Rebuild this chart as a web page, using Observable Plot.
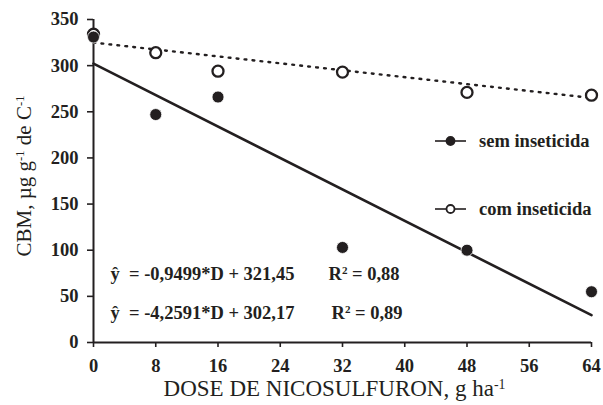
<!DOCTYPE html>
<html>
<head>
<meta charset="utf-8">
<script src="https://cdn.jsdelivr.net/npm/d3@7"></script>
<script src="https://cdn.jsdelivr.net/npm/@observablehq/plot@0.6"></script>
<style>
  body { margin: 0; background: #fff; }
  #wrap { position: relative; width: 603px; height: 405px; overflow: hidden; font-family: "Liberation Serif", "Times New Roman", serif; }
  #legend { position: absolute; left: 0; top: 0; width: 603px; height: 405px; pointer-events: none; }
  .leg { position: absolute; display: flex; align-items: center; font-family: "Liberation Serif", serif; font-weight: bold; font-size: 18.5px; color: #231f20; }
  .leg svg { margin-right: 13px; }
</style>
</head>
<body>
<div id="wrap"><div id="legend"></div></div>
<script>
// ---- data ----
const doses = [0, 8, 16, 32, 48, 64];
const semInseticida = [331, 247, 266, 103, 100, 55];
const comInseticida = [334, 314, 294, 293, 271, 268];
const fitDoses = [0, 64];
const fitSem = [302.2, 29.6];
const fitCom = [325, 265];
const xTicks = [0, 8, 16, 24, 32, 40, 48, 56, 64];
const yTicks = [0, 50, 100, 150, 200, 250, 300, 350];
const seriesNames = ["sem inseticida", "com inseticida"];
const equations = ["ŷ  = -0,9499*D + 321,45", "ŷ  = -4,2591*D + 302,17"];
const r2Labels = ["R^2 = 0,88", "R^2 = 0,89"];
const xTitle = "DOSE DE NICOSULFURON, g ha^-1";
const yTitle = "CBM, µg g^-1 de C^-1";

const ink = "#231f20";
const serif = "'Liberation Serif', 'Times New Roman', serif";
const sem = doses.map((d, i) => ({d, v: semInseticida[i]}));
const com = doses.map((d, i) => ({d, v: comInseticida[i]}));
const fs = fitDoses.map((d, i) => ({d, v: fitSem[i]}));
const fc = fitDoses.map((d, i) => ({d, v: fitCom[i]}));

const boldText = {textAnchor: "start", lineAnchor: "middle", fontSize: 18.5, fontWeight: "bold", fill: ink, fontFamily: serif};

const chart = Plot.plot({
  width: 603,
  height: 405,
  marginLeft: 93,
  marginRight: 12,
  marginTop: 19,
  marginBottom: 63,
  style: {fontFamily: serif, color: ink, background: "#fff", overflow: "visible"},
  x: {domain: [0, 64]},
  y: {domain: [0, 350]},
  marks: [
    Plot.axisX({ticks: xTicks, tickSize: 5, tickPadding: 11, fontSize: 18.5, fontWeight: "bold", fontFamily: serif, strokeWidth: 1.6, label: null}),
    Plot.axisY({ticks: yTicks, tickSize: 6, tickPadding: 9, fontSize: 18.5, fontWeight: "bold", fontFamily: serif, strokeWidth: 1.6, label: null}),
    Plot.ruleX([0], {stroke: ink, strokeWidth: 2}),
    Plot.ruleY([0], {stroke: ink, strokeWidth: 2}),
    Plot.line(fc, {x: "d", y: "v", stroke: ink, strokeWidth: 2.4, strokeDasharray: "1.8,6.2"}),
    Plot.line(fs, {x: "d", y: "v", stroke: ink, strokeWidth: 2.6}),
    Plot.dot(com, {x: "d", y: "v", r: 5.5, fill: "#fff", stroke: ink, strokeWidth: 2.3}),
    Plot.dot(sem, {x: "d", y: "v", r: 6, fill: ink, stroke: "#fff", strokeWidth: 0.8}),
    Plot.text([equations[0]], {...boldText, frameAnchor: "bottom-left", text: d => d, dx: 17, dy: -68}),
    Plot.text([equations[1]], {...boldText, frameAnchor: "bottom-left", text: d => d, dx: 17, dy: -29}),
    Plot.text([r2Labels[0]], {...boldText, frameAnchor: "bottom-left", text: d => d, dx: 235, dy: -68}),
    Plot.text([r2Labels[1]], {...boldText, frameAnchor: "bottom-left", text: d => d, dx: 238, dy: -29}),
    Plot.text([xTitle], {frameAnchor: "bottom", text: d => d, dx: -8, dy: 46, textAnchor: "middle", lineAnchor: "middle", fontSize: 23, fill: ink, fontFamily: serif}),
    Plot.text([yTitle], {frameAnchor: "left", text: d => d, dx: -69, dy: -5, rotate: -90, textAnchor: "middle", lineAnchor: "middle", fontSize: 21, fill: ink, fontFamily: serif})
  ]
});

// superscripts
d3.select(chart).selectAll("text").each(function() {
  const t = this.textContent;
  if (!t.includes("^")) return;
  const parts = t.split(/\^([^\s]+)/);
  const sel = d3.select(this);
  sel.text(null);
  parts.forEach((p, i) => {
    if (!p) return;
    const ts = sel.append("tspan").text(p);
    if (i % 2 === 1) ts.attr("baseline-shift", "super").attr("font-size", "0.6em");
  });
});

const wrap = document.getElementById("wrap");
wrap.insertBefore(chart, wrap.firstChild);

// legend
const legend = document.getElementById("legend");
const legItems = [
  {name: seriesNames[0], fill: ink, top: 141},
  {name: seriesNames[1], fill: "#fff", top: 209}
];
legItems.forEach(it => {
  const div = document.createElement("div");
  div.className = "leg";
  div.style.left = "435px";
  div.style.top = (it.top - 12) + "px";
  div.style.height = "24px";
  div.innerHTML = `<svg width="31" height="12"><line x1="0" x2="31" y1="6" y2="6" stroke="${ink}" stroke-width="1.6"/><circle cx="15.5" cy="6" r="4" fill="${it.fill}" stroke="${ink}" stroke-width="1.8"/></svg><span>${it.name}</span>`;
  legend.appendChild(div);
});
</script>
</body>
</html>
